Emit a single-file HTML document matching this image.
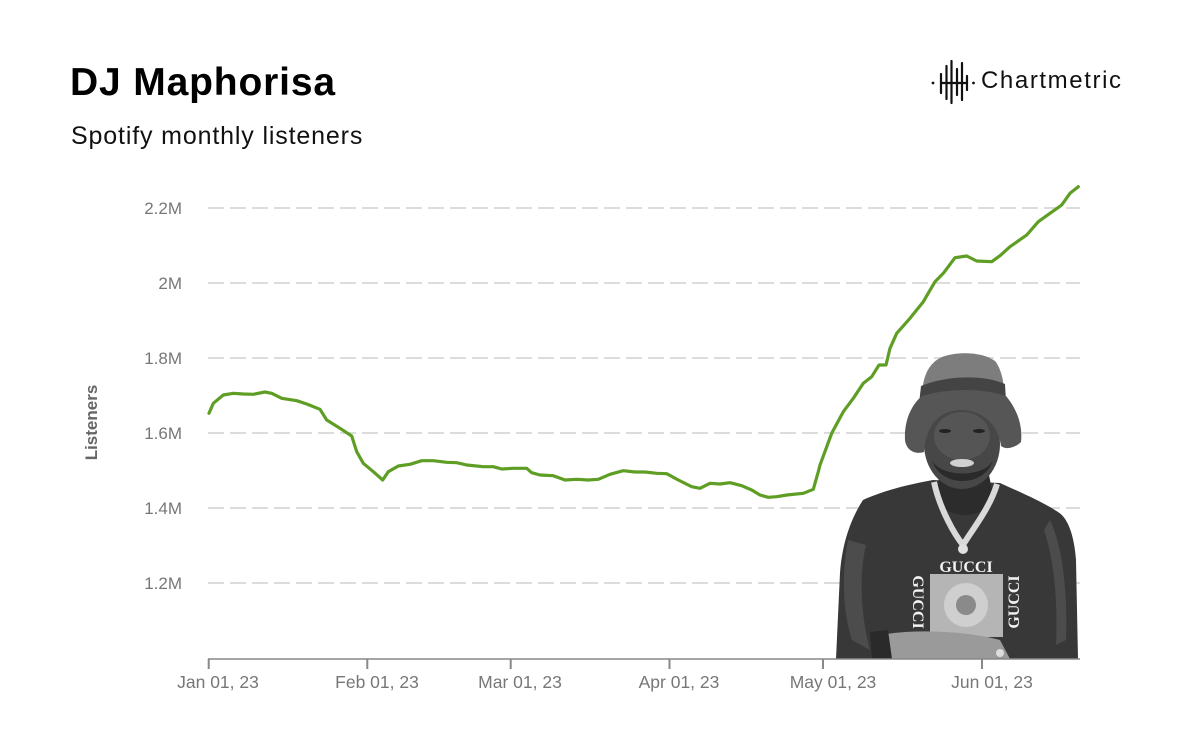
<!DOCTYPE html>
<html>
<head>
<meta charset="utf-8">
<style>
  html,body{margin:0;padding:0;background:#fff;}
  body{width:1200px;height:750px;overflow:hidden;position:relative;font-family:"Liberation Sans",Arial,sans-serif;}
  .title{position:absolute;left:70px;top:60px;font-size:39px;font-weight:bold;color:#000;letter-spacing:0.85px;line-height:46px;margin:0;}
  .sub{position:absolute;left:71px;top:121px;font-size:25px;color:#111;letter-spacing:0.85px;line-height:30px;}
  .logo{position:absolute;left:981px;top:66px;font-size:24px;color:#111;letter-spacing:1.6px;line-height:30px;}
  svg{position:absolute;left:0;top:0;}
</style>
</head>
<body>
<div class="title">DJ Maphorisa</div>
<div class="sub">Spotify monthly listeners</div>
<div class="logo">Chartmetric</div>
<svg width="1200" height="750" viewBox="0 0 1200 750" xmlns="http://www.w3.org/2000/svg">
  <!-- logo icon -->
  <g stroke="#111" stroke-width="2.2" stroke-linecap="round" fill="none">
    <circle cx="933" cy="83" r="1.4" fill="#111" stroke="none"/>
    <circle cx="973.5" cy="83" r="1.4" fill="#111" stroke="none"/>
    <line x1="941" y1="74" x2="941" y2="93"/>
    <line x1="946.5" y1="66" x2="946.5" y2="99"/>
    <line x1="951.5" y1="61" x2="951.5" y2="103"/>
    <line x1="957" y1="69" x2="957" y2="95"/>
    <line x1="962" y1="63" x2="962" y2="100"/>
    <line x1="967" y1="76" x2="967" y2="90"/>
    <line x1="941" y1="83" x2="967" y2="83"/>
  </g>

  <!-- gridlines -->
  <g stroke="#dcdcdc" stroke-width="2" stroke-dasharray="16 6">
    <line x1="208" y1="208" x2="1080" y2="208"/>
    <line x1="208" y1="283" x2="1080" y2="283"/>
    <line x1="208" y1="358" x2="1080" y2="358"/>
    <line x1="208" y1="433" x2="1080" y2="433"/>
    <line x1="208" y1="508" x2="1080" y2="508"/>
    <line x1="208" y1="583" x2="1080" y2="583"/>
  </g>

  <!-- y tick labels -->
  <g font-family="Liberation Sans, Arial, sans-serif" font-size="17" fill="#777" text-anchor="end">
    <text x="182" y="214">2.2M</text>
    <text x="182" y="289">2M</text>
    <text x="182" y="364">1.8M</text>
    <text x="182" y="439">1.6M</text>
    <text x="182" y="514">1.4M</text>
    <text x="182" y="589">1.2M</text>
  </g>
  <text x="0" y="0" transform="translate(97,422.5) rotate(-90)" text-anchor="middle" font-family="Liberation Sans, Arial, sans-serif" font-size="17" font-weight="bold" fill="#666">Listeners</text>

  <!-- photo approximation -->
  <g>
    <!-- sweater -->
    <path d="M 863 500 C 850 520, 842 545, 840 573 L 836 659 L 1078 659 L 1076 560 C 1074 535, 1068 518, 1058 512 C 1040 500, 1015 490, 1000 483 L 933 480 C 905 485, 880 492, 863 500 Z" fill="#383838"/>
    <path d="M 848 540 C 842 570, 842 610, 852 640 L 870 650 C 862 620, 858 580, 866 545 Z" fill="#4c4c4c"/>
    <path d="M 1050 520 C 1062 545, 1068 590, 1066 640 L 1056 645 C 1058 600, 1054 560, 1044 530 Z" fill="#4c4c4c"/>
    <!-- neck / chest -->
    <path d="M 940 470 L 988 470 L 994 500 C 980 520, 950 520, 936 500 Z" fill="#2c2c2c"/>
    <!-- gucci box -->
    <rect x="930" y="574" width="73" height="63" fill="#b5b5b5"/>
    <circle cx="966" cy="605" r="22" fill="#cfcfcf"/>
    <circle cx="966" cy="605" r="10" fill="#8a8a8a"/>
    <g font-family="Liberation Serif, serif" font-weight="bold" fill="#f2f2f2" font-size="16">
      <text x="966" y="572" text-anchor="middle">GUCCI</text>
      <text x="0" y="0" transform="translate(913,602) rotate(90)" text-anchor="middle">GUCCI</text>
      <text x="0" y="0" transform="translate(1019,602) rotate(-90)" text-anchor="middle">GUCCI</text>
      <text x="0" y="0" transform="translate(966,640) rotate(180)" text-anchor="middle">GUCCI</text>
    </g>
    <!-- forearm -->
    <path d="M 880 635 C 920 628, 970 632, 1000 640 L 1010 659 L 875 659 Z" fill="#9a9a9a"/>
    <path d="M 870 632 L 888 630 L 892 659 L 872 659 Z" fill="#2a2a2a"/>
    <circle cx="1000" cy="653" r="4" fill="#ddd"/>
    <!-- face -->
    <ellipse cx="962" cy="444" rx="38" ry="45" fill="#474747"/>
    <ellipse cx="962" cy="436" rx="28" ry="24" fill="#555"/>
    <path d="M 932 460 C 940 488, 985 488, 993 460 C 985 478, 940 478, 932 460 Z" fill="#2a2a2a"/>
    <ellipse cx="962" cy="463" rx="12" ry="4" fill="#d0d0d0"/>
    <ellipse cx="945" cy="431" rx="6" ry="2" fill="#222"/>
    <ellipse cx="979" cy="431" rx="6" ry="2" fill="#222"/>
    <!-- chain -->
    <path d="M 934 482 C 940 510, 955 535, 963 545 C 972 530, 990 508, 997 484" fill="none" stroke="#d9d9d9" stroke-width="6"/>
    <circle cx="963" cy="549" r="5" fill="#e0e0e0"/>
    <!-- hat -->
    <path d="M 922 404 C 921 382, 926 364, 942 357 C 958 351, 985 352, 996 362 C 1003 373, 1005 388, 1004 404 Z" fill="#7d7d7d"/>
    <path d="M 921 386 C 945 376, 982 374, 1005 384 L 1006 402 C 982 393, 945 393, 919 404 Z" fill="#444"/>
    <path d="M 905 440 C 904 420, 912 404, 922 396 C 948 388, 982 388, 1006 396 C 1016 408, 1023 424, 1021 442 C 1015 448, 1006 450, 1001 446 C 999 428, 986 411, 962 410 C 940 410, 926 424, 924 452 C 915 455, 906 450, 905 440 Z" fill="#565656"/>
  </g>

  <!-- axis -->
  <line x1="208" y1="659" x2="1080" y2="659" stroke="#888" stroke-width="1.5"/>
  <g stroke="#888" stroke-width="2">
    <line x1="208.7" y1="659" x2="208.7" y2="669"/>
    <line x1="367.3" y1="659" x2="367.3" y2="669"/>
    <line x1="510.7" y1="659" x2="510.7" y2="669"/>
    <line x1="669.5" y1="659" x2="669.5" y2="669"/>
    <line x1="823" y1="659" x2="823" y2="669"/>
    <line x1="982" y1="659" x2="982" y2="669"/>
  </g>
  <g font-family="Liberation Sans, Arial, sans-serif" font-size="17.5" fill="#777" text-anchor="middle">
    <text x="218" y="688">Jan 01, 23</text>
    <text x="377" y="688">Feb 01, 23</text>
    <text x="520" y="688">Mar 01, 23</text>
    <text x="679" y="688">Apr 01, 23</text>
    <text x="833" y="688">May 01, 23</text>
    <text x="992" y="688">Jun 01, 23</text>
  </g>

  <!-- series -->
  <polyline fill="none" stroke="#5f9e24" stroke-width="3.2" stroke-linejoin="round" stroke-linecap="round" points="
209,413.3 213.3,403.3 223.3,395 233.3,393.3 243.3,394 253.3,394.3 265,392 271.7,393.3 281.7,398.3 296.7,400.7 306.7,404 320,409.3 326.7,420 340,428.3 351.7,436 356.7,451.7 363.3,463.3 373.3,471.7 382.7,480 388.3,471.7 398.3,466 410,464.3 421.7,460.7 433.3,460.7 446.7,462.3 456.7,462.7 466.7,465 483.3,466.7 493.3,466.7 501.7,469 513.3,468.3 526.7,468.3 531.7,472.7 540,475 553.3,475.7 565,480 576.7,479.3 588.3,480 598.3,479.3 610,474.3 623.3,470.7 635,472 645,472 656.7,473.3 666.7,473.7 678.3,480 691.7,486.7 700,488.3 710,483.3 720,484 730,482.7 741.7,485.7 751.7,490 760,495 768.3,497.3 776.7,496.7 786.7,495 803.3,493.3 813.3,489.3 818.3,471.7 820,465 831.7,433.3 843.3,411.7 853.3,398.3 863.3,383.3 871.7,376.7 879,365 886,365 890,348.3 896.7,333.3 910,318.3 923.3,301.7 935,281.7 943.3,273.3 955,257.7 966.7,256 976.7,261 991.7,261.7 1000,255.7 1010,246.7 1026.7,235 1038.3,221.7 1050,213.3 1061.7,205 1070,193.3 1078.3,186.7"/>
</svg>
</body>
</html>
